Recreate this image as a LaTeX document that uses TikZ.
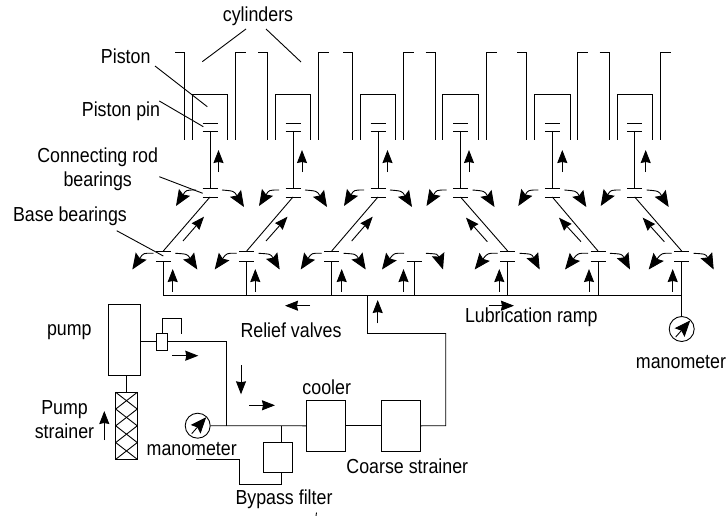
\documentclass[tikz,border=0pt]{standalone}
\usepackage{fontspec}
\setmainfont{Liberation Sans}
\usetikzlibrary{arrows.meta}
\tikzset{
  flow/.style={-{Stealth[length=13pt,width=10pt,inset=1pt]}},
  spray/.style={-{Stealth[length=16pt,width=13pt,inset=2.5pt]}},
  box/.style={draw,inner sep=0pt},
  gauge/.style={draw,circle,inner sep=0pt,minimum size=25pt},
  label/.style={inner sep=0pt,font=\fontsize{17.8}{21}\selectfont,align=center,transform shape,yscale=1.14},
}
\begin{document}
\begin{tikzpicture}[x=1pt,y=-1pt,line width=0.9pt]
        \useasboundingbox (0,0) rectangle (728,516);
        % cylinders, pistons, pins and upper bearings
        \foreach \i/\cx/\off in {1/210/8.5,2/293/9,3/378/9.5,4/460.5/8.5,5/552.3/10,6/634.7/11} {
            \begin{scope}[shift={(\cx,0)}]
                \draw (-35,52) -- (-25.5,52) -- (-25.5,140);
                \draw (25.5,140) -- (25.5,52) -- (36,52);
                \draw (-17.7,140) -- (-17.7,94) -- (17.7,94) -- (17.7,140);
                \draw (-7.5,123) -- (7.5,123);
                \draw (-7.5,131) -- (7.5,131);
                \coordinate (pin\i) at (0,131);
                \coordinate (top\i) at (0,188);
                \coordinate (bot\i) at (0,197);
                \draw (pin\i) -- (top\i);
                \draw (-7.5,188) -- (7.5,188);
                \draw (-7.5,197) -- (7.5,197);
                \draw[flow] (\off,172) -- (\off,150);
                % oil leaving the upper bearing
                \draw[spray] (-14,190) .. controls (-24,190) .. (-34,206);
                \draw[spray] (12,190) .. controls (24,191) .. (34,207);
            \end{scope}
        }
        % lower bearings
        \foreach \j/\cx/\off/\lt/\rt in {1/163.3/9.4/-31/34,2/246.7/8.6/-32/33,3/331.7/10/-31/34,4/414/-10.5/-32/29,5/507.7/-8.4/-33/32,6/598/-9/-33/32,7/681.7/-9/-33/32} {
            \begin{scope}[shift={(\cx,0)}]
                \coordinate (base\j) at (0,251);
                \coordinate (seat\j) at (0,261.7);
                \coordinate (feed\j) at (0,295.7);
                \draw (seat\j) -- (feed\j);
                \draw (-7.5,261.7) -- (7.5,261.7);
                \draw[flow] (\off,291.7) -- (\off,269);
                \draw[spray] (-10,253.3) .. controls (-20,253) .. (\lt,269.5);
                \draw[spray] (12,253.3) .. controls (24,254) .. (\rt,269.5);
            \end{scope}
        }
        \foreach \j in {1,2,3,5,6,7} {
            \draw ([shift={(-7.5,0)}]base\j) -- ([shift={(7.5,0)}]base\j);
        }
        % connecting rods
        \foreach \i/\j in {1/1,2/2,3/3,4/5,5/6,6/7} {
            \draw (bot\i) -- (base\j);
        }
        \foreach \xa/\ya/\xb/\yb in {183/241/204/216.7,266/241/287.5/216.7,351.7/241/372.7/216.7,487.3/241.7/466/217.7,581/241.7/559/217.7,664.3/241.7/642.7/217.7} {
            \draw[flow] (\xa,\ya) -- (\xb,\yb);
        }
        % boxes of the oil circuit
        \node[box,minimum width=32.4pt,minimum height=71.7pt] (pump) at (124.5,339.9) {};
        \node[box,minimum width=21.6pt,minimum height=67pt] (strainer) at (126.5,425.8) {};
        \node[box,minimum width=10.6pt,minimum height=16.7pt] (valve) at (162,341.7) {};
        \node[box,minimum width=39.4pt,minimum height=50.3pt] (cooler) at (326,425.8) {};
        \node[box,minimum width=39.4pt,minimum height=50.3pt] (coarse) at (401,425.8) {};
        \node[box,minimum width=28.6pt,minimum height=29.6pt] (filter) at (278,457.5) {};
        \node[gauge] (gaugeA) at (197.7,425.7) {};
        \node[gauge] (gaugeB) at (681.7,329) {};
        % strainer mesh
        \foreach \k in {0,1,2,3} {
            \draw (115.7,392.3+16.75*\k) -- (137.3,392.3+16.75*\k+16.75);
            \draw (137.3,392.3+16.75*\k) -- (115.7,392.3+16.75*\k+16.75);
        }
        % ramp and pipes
        \coordinate (rampL) at (feed1);
        \coordinate (rampR) at (feed7);
        \coordinate (riser) at (367.5,295.7);
        \coordinate (bend) at (226.7,341.7);
        \coordinate (join) at (226.7,425.7);
        \coordinate (tee) at (281.7,425.7);
        \draw (rampL) -- (rampR);
        \draw (rampR) -- (gaugeB.north);
        \draw (riser) -- (367.5,333.5) -- (445.7,333.5) -- (445.7,425.7) -- (coarse.east);
        \draw (cooler.east) -- (coarse.west);
        \draw (gaugeA.east) -- (cooler.west);
        \draw (pump.east |- valve.west) -- (valve.west);
        \draw (valve.east) -- (bend) -- (join);
        \draw (pump.south -| strainer.north) -- (strainer.north);
        \draw (valve.north) -- (162,318) -- (181.7,318) -- (181.7,334.3);
        \draw (tee) -- (tee |- filter.north);
        \draw (tee |- filter.south) -- (281.7,484.3) -- (239,484.3) -- (239,459.3) -- (195.7,459.3);
        \draw (316.5,512.5) -- (316,516);
        % gauge needles
        \draw[spray] ([shift={(-6,8)}]gaugeA.center) -- ([shift={(8.5,-8.5)}]gaugeA.center);
        \draw[spray] ([shift={(-6,8)}]gaugeB.center) -- ([shift={(8.5,-8.5)}]gaugeB.center);
        % flow arrows along the pipes
        \draw[flow] (310,305.7) -- (285,305.7);
        \draw[flow] (489,305.7) -- (514,305.7);
        \draw[flow] (377.7,323.3) -- (377.7,300);
        \draw[flow] (172.3,355.7) -- (198.3,355.7);
        \draw[flow] (241,365) -- (241,394.3);
        \draw[flow] (249.3,405.3) -- (275,405.3);
        \draw[flow] (104.3,440) -- (104.3,411);
        % labels
        \node[label] (cylinders) at (258,16.7) {cylinders};
        \node[label] (piston) at (125.7,56) {Piston};
        \node[label] (pistonpin) at (121,111) {Piston pin};
        \node[label] (conrod) at (97.7,169) {Connecting rod\\bearings};
        \node[label] (basebear) at (70,216.5) {Base bearings};
        \node[label] (pumplabel) at (69.3,331.7) {pump};
        \node[label] (strainerlabel) at (64.5,419.5) {Pump\\strainer};
        \node[label] (reliefvalves) at (291,330) {Relief valves};
        \node[label] (ramplabel) at (531.3,317.7) {Lubrication ramp};
        \node[label] (manoB) at (681,362.3) {manometer};
        \node[label] (manoA) at (191.7,449.3) {manometer};
        \node[label] (coolerlabel) at (326.7,387.3) {cooler};
        \node[label] (coarselabel) at (407.3,466.7) {Coarse strainer};
        \node[label] (filterlabel) at (284,499) {Bypass filter};
        % leaders
        \coordinate (cylL) at (202.3,61.7);
        \coordinate (cylR) at (301,62);
        \coordinate (pistonend) at (207.3,106.7);
        \coordinate (pinend) at (203.3,126.7);
        \coordinate (conend) at (202.7,193.3);
        \coordinate (baseend) at (163.3,256);
        \draw (246,29) -- (cylL);
        \draw (266,29) -- (cylR);
        \draw (155,66) -- (pistonend);
        \draw (159.3,101) -- (pinend);
        \draw (159.3,176.7) -- (conend);
        \draw (116.7,230.7) -- (baseend);
\end{tikzpicture}
\end{document}
